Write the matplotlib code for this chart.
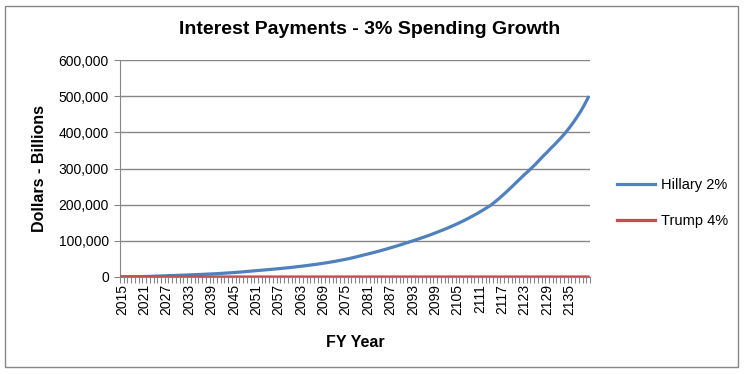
import numpy as np
import matplotlib
matplotlib.use("Agg")
import matplotlib.pyplot as plt
from matplotlib.patches import Rectangle
from matplotlib.ticker import FuncFormatter

# data (billions of dollars), one row = 10 years from 2015
years = list(range(2015, 2141))

hillary = [
    400, 500, 600, 750, 900, 1100, 1300, 1600, 1900, 2300,
    2700, 3100, 3500, 3900, 4200, 4600, 5000, 5400, 5800, 6200,
    6600, 7000, 7500, 8000, 8500, 9000, 9600, 10200, 10900, 11600,
    12300, 13100, 13900, 14800, 15700, 16600, 17500, 18400, 19300, 20200,
    21100, 22000, 23000, 24000, 25000, 26100, 27200, 28400, 29600, 30900,
    32200, 33600, 35000, 36500, 38000, 39600, 41300, 43000, 45000, 47000,
    49000, 51200, 53500, 56000, 58600, 61200, 63800, 66400, 69000, 71800,
    74700, 77600, 80600, 83700, 86800, 90000, 93300, 96600, 100000, 103400,
    106900, 110400, 114000, 117800, 121700, 125700, 129800, 134000, 138400, 142900,
    147600, 152500, 157600, 162900, 168400, 174100, 180000, 186200, 192600, 199200,
    207500, 216000, 225000, 234500, 244000, 254000, 264000, 274000, 284000, 293000,
    303000, 313000, 324000, 335000, 345000, 356000, 366000, 377000, 388000, 400000,
    413000, 427000, 442000, 458000, 476000, 496000,
]

trump = [
    300, 300, 300, 250, 250, 250, 200, 200, 200, 150,
    150, 150, 100, 100, 100, 100, 50, 50, 50, 50,
    0, 0, 0, 0, 0, 0, 0, 0, 0, 0,
    0, 0, 0, 0, 0, 0, 0, 0, 0, 0,
    0, 0, 0, 0, 0, 0, 0, 0, 0, 0,
    0, 0, 0, 0, 0, 0, 0, 0, 0, 0,
    0, 0, 0, 0, 0, 0, 0, 0, 0, 0,
    0, 0, 0, 0, 0, 0, 0, 0, 0, 0,
    0, 0, 0, 0, 0, 0, 0, 0, 0, 0,
    0, 0, 0, 0, 0, 0, 0, 0, 0, 0,
    0, 0, 0, 0, 0, 0, 0, 0, 0, 0,
    0, 0, 0, 0, 0, 0, 0, 0, 0, 0,
    0, 0, 0, 0, 0, 0,
]

y_ticks = [0, 100000, 200000, 300000, 400000, 500000, 600000]
label_step = 6

plt.rcParams['font.family'] = ['Liberation Sans', 'DejaVu Sans']

fig = plt.figure(figsize=(7.44, 3.74), dpi=100)
fig.patches.append(Rectangle((0.007, 0.018), 0.985, 0.965, transform=fig.transFigure,
                             fill=False, edgecolor='#878787', linewidth=1))

ax = fig.add_axes([120 / 744, 1 - 277 / 374, 470 / 744, 217 / 374])

x = np.arange(len(years))
ax.plot(x, hillary, color='#4F81BD', linewidth=2.3, label='Hillary 2%', zorder=3)
ax.plot(x, trump, color='#C0504D', linewidth=2.3, label='Trump 4%', zorder=4)

ax.set_xlim(-0.5, len(years) - 0.5)
ax.set_ylim(0, 600000)
ax.set_yticks(y_ticks)
ax.yaxis.set_major_formatter(FuncFormatter(lambda v, p: f"{int(v):,}"))
ax.grid(axis='y', color='#868686', linewidth=1)
ax.set_axisbelow(True)

ax.set_xticks(x[::label_step])
ax.set_xticklabels([str(y) for y in years[::label_step]], rotation=90)
ax.set_xticks(np.arange(-0.5, len(years), 1), minor=True)
ax.tick_params(axis='x', which='major', length=0, pad=5, labelsize=10)
ax.tick_params(axis='x', which='minor', length=4, color='#868686', width=0.8)
ax.tick_params(axis='y', length=4, color='#868686', labelsize=10, pad=4)

for s in ['top', 'right']:
    ax.spines[s].set_visible(False)
ax.spines['left'].set_color('#868686')
ax.spines['bottom'].set_color('#868686')

ax.set_xlabel('FY Year', fontsize=11.5, fontweight='bold', labelpad=14)
ax.set_ylabel('Dollars - Billions', fontsize=11.5, fontweight='bold', labelpad=8)

fig.text(370 / 744, 1 - 30 / 374, 'Interest Payments - 3% Spending Growth',
         ha='center', va='center', fontsize=14, fontweight='bold')

ax.legend(loc='center left', bbox_to_anchor=(1.03, 0.34), frameon=False,
          fontsize=10.5, handlelength=2.6, labelspacing=1.5, handletextpad=0.4)

fig.savefig('out.png', dpi=100)
